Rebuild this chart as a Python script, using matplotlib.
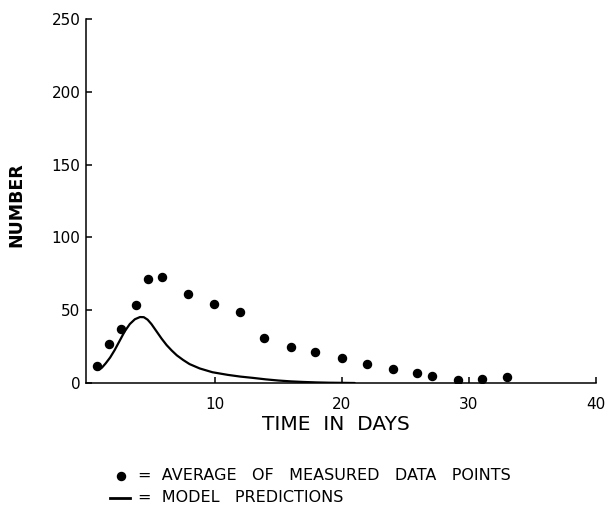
import matplotlib
matplotlib.use("Agg")
import matplotlib.pyplot as plt
from matplotlib.lines import Line2D

# averaged measurements (days, number)
days_meas = [0.7, 1.65, 2.6, 3.75, 4.75, 5.8, 7.85, 9.9, 12, 13.9, 16, 17.9,
             20, 22, 24, 25.9, 27.1, 29.1, 31, 33]
num_meas = [11.5, 26.5, 37, 53.5, 71.5, 72.5, 61, 54, 48.5, 31, 25, 21,
            17, 13, 9.5, 6.7, 4.7, 2.0, 2.8, 4.2]

# model curve read at a set of days
days_model = [0.65, 0.85, 1.1, 1.4, 1.75, 2.1, 2.5, 2.9, 3.3, 3.7, 4.1, 4.4,
              4.7, 5.0, 5.4, 5.8, 6.2, 6.6, 7.0, 7.5, 8.0, 8.8, 9.8, 11, 12,
              13, 14, 15, 16, 17, 18, 19, 20, 21]
num_model = [10.5, 9.2, 10.5, 13.5, 17.5, 22.5, 29, 35.5, 40.5, 43.8, 45.3, 45.2,
             43.5, 40.5, 35.5, 30.5, 26, 22.3, 19, 15.8, 13, 10, 7.4, 5.6, 4.4,
             3.5, 2.5, 1.7, 1.1, 0.7, 0.4, 0.2, 0.1, 0.0]

x_ticks = [10, 20, 30, 40]
y_ticks = [0, 50, 100, 150, 200, 250]

W, H = 609, 508
fig = plt.figure(figsize=(W / 100, H / 100), dpi=100)
fig.patch.set_facecolor("white")
ax = fig.add_axes([86 / W, 1 - 383 / H, 510 / W, 364 / H])

ax.plot(days_model, num_model, color="black", lw=1.6, solid_capstyle="round")
ax.plot(days_meas, num_meas, "o", color="black", ms=5.8, mec="black")

ax.set_xlim(-0.15, 40)
ax.set_ylim(0, 250)
ax.set_xticks(x_ticks)
ax.set_yticks(y_ticks)
ax.spines["top"].set_visible(False)
ax.spines["right"].set_visible(False)
for s in ("left", "bottom"):
    ax.spines[s].set_linewidth(1.1)
ax.tick_params(direction="in", length=4, width=1.1, labelsize=11, colors="black")
ax.tick_params(axis="x", pad=10)
ax.tick_params(axis="y", pad=4)

fig.text(16.5 / W, 1 - 205 / H, "NUMBER", rotation=90, ha="center", va="center",
         fontsize=12.5, fontweight="bold")
fig.text(336 / W, 1 - 425 / H, "TIME  IN  DAYS", ha="center", va="center",
         fontsize=14.5)

# key below the chart
fig.add_artist(Line2D([120.7 / W], [1 - 476 / H], marker="o", ms=5.8,
                      color="black", transform=fig.transFigure))
fig.add_artist(Line2D([110 / W, 130 / W], [1 - 498 / H, 1 - 498 / H], lw=2,
                      color="black", transform=fig.transFigure))
fig.text(138 / W, 1 - 476 / H, "=  AVERAGE   OF   MEASURED   DATA   POINTS",
         ha="left", va="center", fontsize=11.5)
fig.text(138 / W, 1 - 498 / H, "=  MODEL   PREDICTIONS", ha="left", va="center",
         fontsize=11.5)

fig.savefig("out.png", dpi=100)
